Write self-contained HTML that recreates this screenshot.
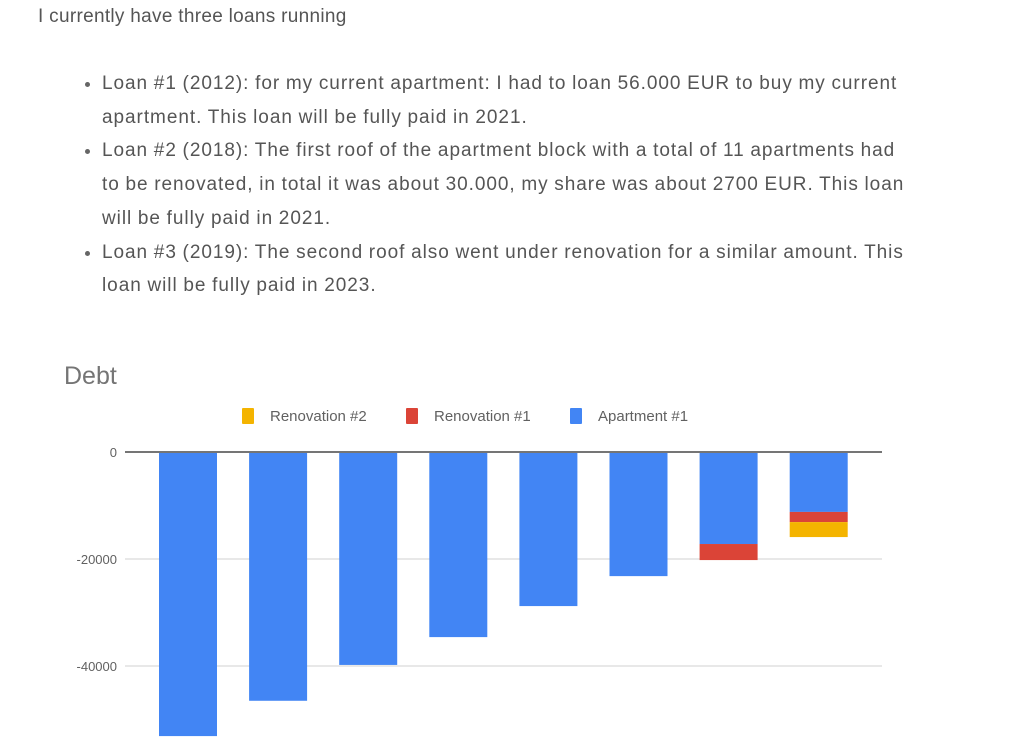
<!DOCTYPE html>
<html><head><meta charset="utf-8"><style>
body{margin:0;width:1023px;height:750px;overflow:hidden;background:#fff;font-family:"Liberation Sans",sans-serif;color:#555;}
.p{position:absolute;left:38px;top:6px;font-size:19px;letter-spacing:0.3px;}
ul{position:absolute;left:62px;top:67px;margin:0;padding-left:40px;width:806px;font-size:19px;letter-spacing:0.95px;word-spacing:-0.5px;line-height:33.7px;}
li{margin:0;}
li::marker{color:#666;}
</style></head><body>
<div class="p">I currently have three loans running</div>
<ul>
<li>Loan #1 (2012): for my current apartment: I had to loan 56.000 EUR to buy my current apartment. This loan will be fully paid in 2021.</li>
<li>Loan #2 (2018): The first roof of the apartment block with a total of 11 apartments had to be renovated, in total it was about 30.000, my share was about 2700 EUR. This loan will be fully paid in 2021.</li>
<li>Loan #3 (2019): The second roof also went under renovation for a similar amount. This loan will be fully paid in 2023.</li>
</ul>
<svg id="chart" width="1023" height="750" style="position:absolute;left:0;top:0" font-family="Liberation Sans, sans-serif">
<text x="64" y="384" font-size="25" fill="#757575">Debt</text>
<g id="legend"></g>
<g id="grid"></g><g id="bars"></g><g id="axis"></g>
</svg>
<script>
const categories=["Y1","Y2","Y3","Y4","Y5","Y6","Y7","Y8"];
const apartment=[-53100,-46500,-39800,-34600,-28800,-23200,-17200,-11200];
const renovation1=[0,0,0,0,0,0,-3000,-1900];
const renovation2=[0,0,0,0,0,0,0,-2800];
const ticks=[0,-20000,-40000];
const tickLabels=["0","-20000","-40000"];
const NS="http://www.w3.org/2000/svg";
const y0=452, pxPer=107/20000;
const y=v=>y0-v*pxPer;
const xBand=i=>159+i*90.1;
const bw=58;
function mk(t,a,p){const e=document.createElementNS(NS,t);for(const k in a)e.setAttribute(k,a[k]);p.appendChild(e);return e;}
const grid=document.getElementById('grid'),bars=document.getElementById('bars'),axis=document.getElementById('axis'),legend=document.getElementById('legend');
ticks.forEach((t,i)=>{
 if(t!==0){const l=mk('line',{x1:125,x2:882,y1:y(t),y2:y(t),stroke:'#e0e0e0','stroke-width':1.5},grid);
 
 }
 const tx=mk('text',{x:117,y:y(t)+5,'text-anchor':'end','font-size':13,fill:'#616161'},axis);
 tx.textContent=tickLabels[i];
 
 
});
const series=[[apartment,'#4285f4','bar-apartment'],[renovation1,'#db4437','bar-renovation-1'],[renovation2,'#f4b400','bar-renovation-2']];
categories.forEach((c,i)=>{
 let base=0;
 series.forEach(([arr,col,nm])=>{
  const v=arr[i]; if(!v) return;
  const top=y(base), bot=y(base+v);
  const r=mk('rect',{x:xBand(i),y:top,width:bw,height:bot-top,fill:col},bars);
  
  
  base+=v;
 });
});
const z=mk('line',{x1:125,x2:882,y1:y0,y2:y0,stroke:'#757575','stroke-width':2},axis);


const leg=[["Renovation #2","#f4b400",242],["Renovation #1","#db4437",406],["Apartment #1","#4285f4",570]];
leg.forEach(([t,c,x])=>{
 const g=mk('g',{},legend);
 
 
 mk('rect',{x:x,y:408,width:12,height:16,fill:c,rx:1},g);
 const tx=mk('text',{x:x+28,y:421,'font-size':15,fill:'#616161'},g);
 tx.textContent=t;
});
</script>
</body></html>
